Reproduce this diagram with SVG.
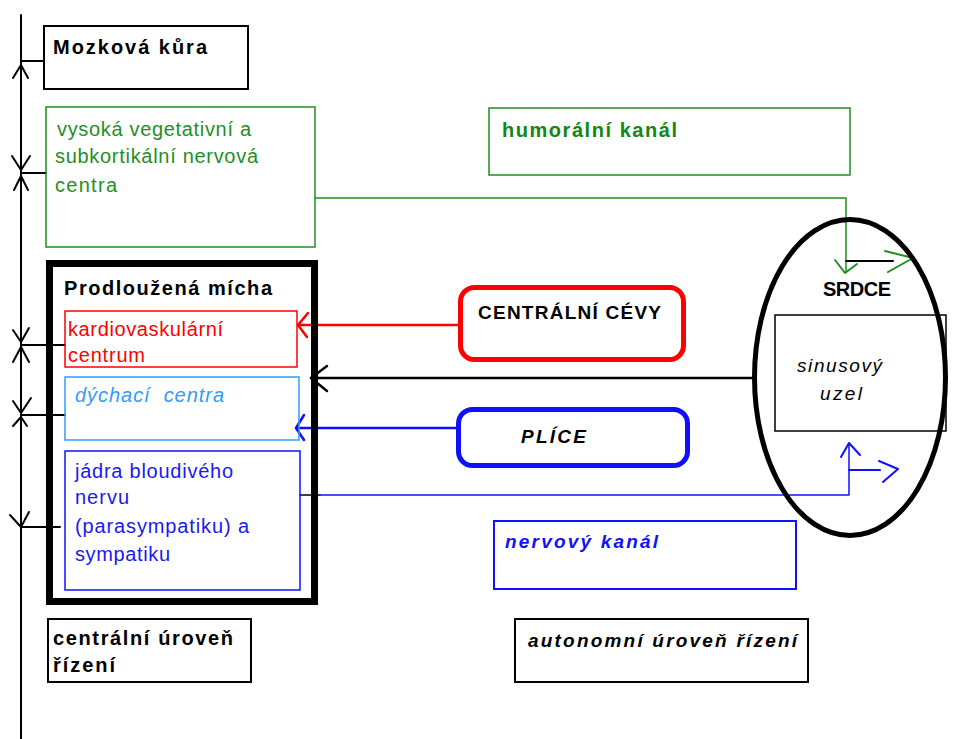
<svg xmlns="http://www.w3.org/2000/svg" width="957" height="739" viewBox="0 0 957 739">
<style>
text{font-family:"Liberation Sans",Arial,sans-serif;font-size:20px}
.b{font-weight:bold}
.i{font-style:italic}
.box{fill:none;stroke-width:2}
.k{stroke:#000}
.g{stroke:#1f8f1f}
.r{stroke:#ff0000}
.lb{stroke:#3399ff}
.bl{stroke:#1010ff}
.ln{fill:none;stroke-width:2;stroke-linecap:round;stroke-linejoin:round}
</style>
<rect width="957" height="739" fill="#fff"/>
<g id="connectors">
<line x1="21" y1="15" x2="21" y2="739" class="ln k"/>
<line x1="21" y1="61" x2="44" y2="61" class="ln k"/>
<line x1="21" y1="173" x2="46" y2="173" class="ln k"/>
<line x1="21" y1="345" x2="65" y2="345" class="ln k"/>
<line x1="21" y1="415" x2="65" y2="415" class="ln k"/>
<line x1="21" y1="527" x2="60" y2="527" class="ln k"/>
<polyline points="13,78 21,65 28,78" class="ln k"/>
<polyline points="12,156 21,170 30,156" class="ln k"/>
<polyline points="14,190 21,176 28,190" class="ln k"/>
<polyline points="13,330 21,342 29,328" class="ln k"/>
<polyline points="13,362 21,347 29,362" class="ln k"/>
<polyline points="13,401 21,413 31,398" class="ln k"/>
<polyline points="13,426 21,417 27,426" class="ln k"/>
<polyline points="10,515 21,527 29,512" class="ln k"/>
<polyline points="315,198 846,198 846,272" class="ln g" style="stroke-width:1.5"/>
<polyline points="835,260 845,273 857,264" class="ln g"/>
<line x1="846" y1="261" x2="893" y2="261" class="ln k"/>
<polyline points="885,251 913,258 888,272" class="ln g"/>
<line x1="458" y1="325" x2="298" y2="325" class="ln r" style="stroke-width:2.5"/>
<polyline points="308,313 298,325 307,337" class="ln r" style="stroke-width:2.5"/>
<line x1="753" y1="378" x2="311" y2="378" class="ln k" style="stroke-width:2.5"/>
<polyline points="327,366 311,378 327,391" class="ln k" style="stroke-width:2.5"/>
<line x1="456" y1="428" x2="296" y2="428" class="ln bl" style="stroke-width:2.5"/>
<polyline points="304,415 296,428 304,440" class="ln bl" style="stroke-width:2.5"/>
<line x1="300" y1="495" x2="320" y2="495" class="ln k" style="stroke-width:1.5"/>
<polyline points="320,495 849,495 849,443" class="ln bl" style="stroke-width:1.5"/>
<polyline points="841,457 849,443 860,455" class="ln bl"/>
<line x1="849" y1="470" x2="880" y2="470" class="ln bl"/>
<polyline points="879,461 898,469 883,482" class="ln bl"/>
</g>
<g id="mozkova">
<rect x="44" y="26" width="204" height="63" class="box k"/>
<text x="53" y="54" class="b" textLength="154" lengthAdjust="spacing">Mozková kůra</text>
</g>
<g id="vegetativni" fill="#1f8f1f">
<rect x="46" y="107" width="269" height="140" class="box g" style="stroke-width:1.5"/>
<text x="57" y="136" textLength="194" lengthAdjust="spacing">vysoká vegetativní a</text>
<text x="55" y="163" textLength="203" lengthAdjust="spacing">subkortikální nervová</text>
<text x="55" y="192" textLength="62" lengthAdjust="spacing">centra</text>
</g>
<g id="humoralni" fill="#118811">
<rect x="489" y="108" width="361" height="67" class="box g" style="stroke-width:1.5"/>
<text x="502" y="137" class="b" textLength="175" lengthAdjust="spacing">humorální kanál</text>
</g>
<g id="prodlouzena">
<rect x="49.5" y="263.5" width="265" height="338" fill="none" stroke="#000" stroke-width="7"/>
<text x="64" y="295" class="b" textLength="208" lengthAdjust="spacing">Prodloužená mícha</text>
</g>
<g id="kardio" fill="#ff0000">
<rect x="65" y="311" width="232" height="56" class="box r" style="stroke-width:1.5"/>
<text x="68" y="336" textLength="155" lengthAdjust="spacing">kardiovaskulární</text>
<text x="68" y="362" textLength="77" lengthAdjust="spacing">centrum</text>
</g>
<g id="dychaci" fill="#3399ff">
<rect x="65" y="377" width="234" height="63" class="box lb" style="stroke-width:1.5"/>
<text x="75" y="402" class="i" style="white-space:pre" textLength="149" lengthAdjust="spacing">dýchací  centra</text>
</g>
<g id="jadra" fill="#1a1aee">
<rect x="65" y="451" width="235" height="139" class="box bl" style="stroke-width:1.5"/>
<text x="75" y="478" textLength="158" lengthAdjust="spacing">jádra bloudivého</text>
<text x="75" y="504" textLength="54" lengthAdjust="spacing">nervu</text>
<text x="75" y="533" textLength="174" lengthAdjust="spacing">(parasympatiku) a</text>
<text x="75" y="561" textLength="95" lengthAdjust="spacing">sympatiku</text>
</g>
<g id="cevy">
<rect x="460.5" y="287.5" width="223" height="72" rx="14" fill="none" stroke="#ff0000" stroke-width="5"/>
<text x="478" y="319" class="b" style="font-size:19px" textLength="183" lengthAdjust="spacing">CENTRÁLNÍ CÉVY</text>
</g>
<g id="plice">
<rect x="458.5" y="409.5" width="229" height="56" rx="14" fill="none" stroke="#1010ff" stroke-width="5"/>
<text x="521" y="443" class="b i" style="font-size:19px" textLength="65" lengthAdjust="spacing">PLÍCE</text>
</g>
<g id="srdce">
<ellipse cx="850" cy="377.5" rx="95.5" ry="158" fill="none" stroke="#000" stroke-width="5"/>
<text x="823" y="296" class="b" textLength="68" lengthAdjust="spacing">SRDCE</text>
</g>
<g id="sinusovy">
<rect x="775" y="315" width="171" height="116" class="box k" style="stroke-width:1.5"/>
<text x="797" y="372" class="i" style="font-size:19px" textLength="85" lengthAdjust="spacing">sinusový</text>
<text x="820" y="400" class="i" style="font-size:19px" textLength="42" lengthAdjust="spacing">uzel</text>
</g>
<g id="nervovy" fill="#1010ff">
<rect x="494" y="521" width="302" height="68" class="box bl"/>
<text x="505" y="548" class="b i" style="font-size:19px" textLength="153" lengthAdjust="spacing">nervový kanál</text>
</g>
<g id="centralni">
<rect x="48" y="619" width="203" height="63" class="box k"/>
<text x="53" y="645" class="b" textLength="180" lengthAdjust="spacing">centrální úroveň</text>
<text x="53" y="672" class="b" textLength="62" lengthAdjust="spacing">řízení</text>
</g>
<g id="autonomni">
<rect x="515" y="619" width="293" height="63" class="box k"/>
<text x="528" y="647" class="b i" style="font-size:19px" textLength="269" lengthAdjust="spacing">autonomní úroveň řízení</text>
</g>
</svg>
